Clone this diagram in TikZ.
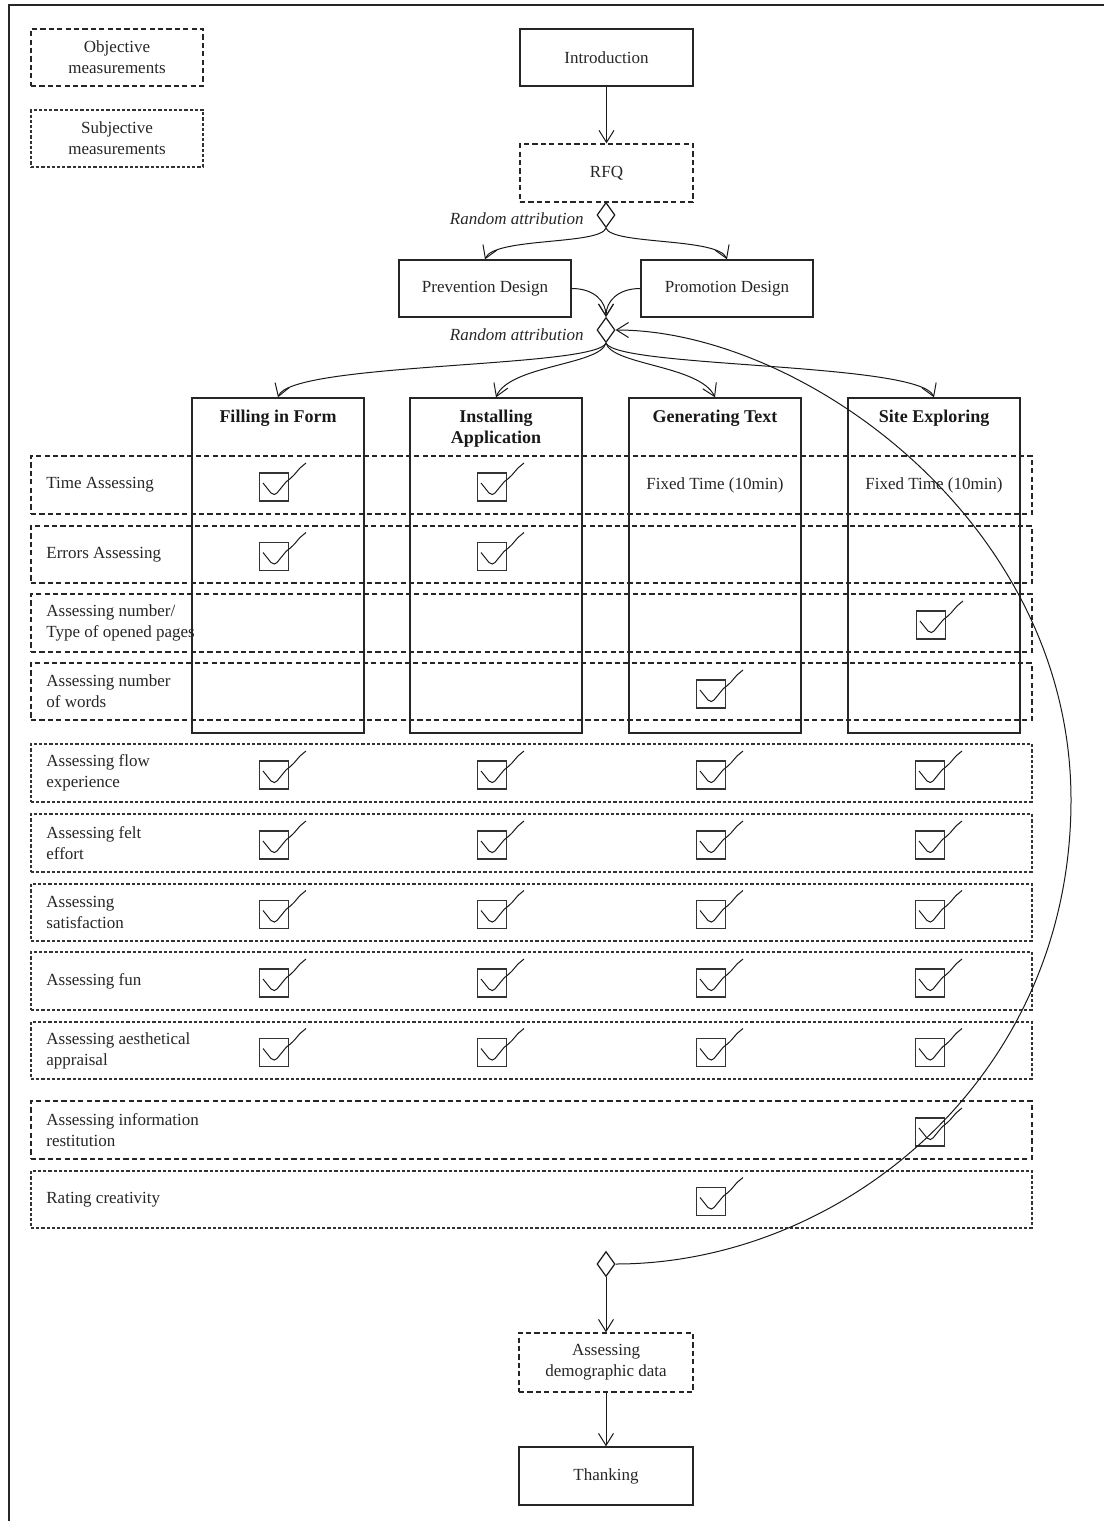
\documentclass[tikz,border=0pt]{standalone}
\usepackage{fontspec}
\setmainfont{Liberation Serif}
\usetikzlibrary{shapes.geometric,arrows.meta,fit}
\tikzset{
  chk/.pic={
    \draw[line width=0.6pt, draw=black!80] (-14.5,-14) rectangle (14.5,14);
    \draw[line width=0.5pt, draw=black!90] (-11,-4) -- (-3,6) .. controls (-1,8) and (2,8) .. (3,6) -- (12,-5) .. controls (15,-8) and (18,-9) .. (20,-12) -- (26,-19) .. controls (28,-21) and (30,-22) .. (32,-24);
  }
}
\begin{document}
\begin{tikzpicture}[x=0.5pt,y=-0.5pt,
  font=\fontsize{8.5}{10.5}\selectfont,
  txt/.style={text=black!85},
  solidbox/.style={draw=black!85, line width=0.7pt, inner sep=0pt, text=black!85, align=center},
  objbox/.style={draw=black!85, line width=0.7pt, dash pattern=on 2.6pt off 1.6pt, inner sep=0pt, text=black!85, align=center},
  subbox/.style={draw=black!80, line width=0.55pt, dash pattern=on 1.6pt off 1pt, inner sep=0pt, text=black!85, align=center},
  conn/.style={draw=black!90, line width=0.5pt, -{Straight Barb[length=6pt,width=7.5pt]}},
  dia/.style={draw=black!90, line width=0.6pt, diamond, minimum width=9pt, minimum height=12.5pt, inner sep=0pt},
  rowlab/.style={anchor=west, inner sep=0pt, text=black!85, align=left},
  ttl/.style={text=black!90, align=center, font=\fontsize{9}{10.5}\selectfont\bfseries},
  ital/.style={anchor=east, inner sep=0pt, text=black!85, font=\fontsize{8.5}{10.5}\selectfont\itshape}
]
\useasboundingbox (0,0) rectangle (1104,1521);
\draw[line width=0.8pt, draw=black!85] (9,1521) -- (9,5) -- (1104,5);

% legend
\node[objbox, minimum width=86pt, minimum height=28.5pt] (legobj) at (117,57.5) {Objective\\measurements};
\node[subbox, minimum width=86pt, minimum height=28.5pt] (legsub) at (117,138.5) {Subjective\\measurements};

% top flow
\node[solidbox, minimum width=86.5pt, minimum height=28.5pt] (intro) at (606.5,57.5) {Introduction};
\node[objbox, minimum width=86.5pt, minimum height=29pt] (rfq) at (606.5,173) {RFQ};
\node[dia] (d1) at (606,215) {};
\node[ital] (ra1) at (584,219) {Random attribution};
\node[solidbox, minimum width=86pt, minimum height=28.5pt] (prev) at (485,288.5) {Prevention Design};
\node[solidbox, minimum width=86pt, minimum height=28.5pt] (prom) at (727,288.5) {Promotion Design};
\node[dia] (d2) at (606,330) {};
\node[ital] (ra2) at (584,335) {Random attribution};

% rows
\node[objbox, fit={(31,456)(1032,514)}] (r1) {};
\node[objbox, fit={(31,526)(1032,583)}] (r2) {};
\node[objbox, fit={(31,594)(1032,652)}] (r3) {};
\node[objbox, fit={(31,663)(1032,720)}] (r4) {};
\node[subbox, fit={(31,744)(1032,802)}] (r5) {};
\node[subbox, fit={(31,814)(1032,872)}] (r6) {};
\node[subbox, fit={(31,884)(1032,941)}] (r7) {};
\node[subbox, fit={(31,952)(1032,1010)}] (r8) {};
\node[subbox, fit={(31,1022)(1032,1079)}] (r9) {};
\node[objbox, fit={(31,1101)(1032,1159)}] (r10) {};
\node[subbox, fit={(31,1171)(1032,1228)}] (r11) {};

\node[rowlab] (l1) at (46,485) {Time Assessing};
\node[rowlab] (l2) at (46,554.5) {Errors Assessing};
\node[rowlab] (l3) at (46,623) {Assessing number/\\Type of opened pages};
\node[rowlab] (l4) at (46,691.5) {Assessing number\\of words};
\node[rowlab] (l5) at (46,773) {Assessing flow\\experience};
\node[rowlab] (l6) at (46,843) {Assessing felt\\effort};
\node[rowlab] (l7) at (46,912.5) {Assessing\\satisfaction};
\node[rowlab] (l8) at (46,981) {Assessing fun};
\node[rowlab] (l9) at (46,1050.5) {Assessing aesthetical\\appraisal};
\node[rowlab] (l10) at (46,1130) {Assessing information\\restitution};
\node[rowlab] (l11) at (46,1199.5) {Rating creativity};

% task columns
\node[solidbox, fit={(192,398)(364,733)}] (c1) {};
\node[solidbox, fit={(410,398)(582,733)}] (c2) {};
\node[solidbox, fit={(629,398)(801,733)}] (c3) {};
\node[solidbox, fit={(848,398)(1020,733)}] (c4) {};
\node[ttl] (t1) at (278,418) {Filling in Form};
\node[ttl] (t2) at (496,429) {Installing\\Application};
\node[ttl] (t3) at (715,418) {Generating Text};
\node[ttl] (t4) at (934,418) {Site Exploring};
\node[txt] (ft3) at (715,485) {Fixed Time (10min)};
\node[txt] (ft4) at (934,485) {Fixed Time (10min)};

% checkboxes
\pic at (274,487) {chk};
\pic at (492,487) {chk};
\pic at (274,556.5) {chk};
\pic at (492,556.5) {chk};
\pic at (931,625) {chk};
\pic at (711,694) {chk};
\foreach \yy in {775,845,914.5,983,1052.5} {
  \pic at (274,\yy) {chk};
  \pic at (492,\yy) {chk};
  \pic at (711,\yy) {chk};
  \pic at (930,\yy) {chk};
}
\pic at (930,1132) {chk};
\pic at (711,1201.5) {chk};

% bottom flow
\node[dia] (d3) at (606,1264) {};
\node[objbox, minimum width=87pt, minimum height=29.5pt] (demo) at (606,1362.5) {Assessing\\demographic data};
\node[solidbox, minimum width=87pt, minimum height=29pt] (thank) at (606,1476) {Thanking};
\coordinate (ret) at (1071,800);

% connectors
\draw[conn] (intro.south) -- (rfq.north);
\draw[conn] (d1.south) .. controls +(-6,17) and +(9,-22) .. (prev.north);
\draw[conn] (d1.south) .. controls +(6,17) and +(-9,-22) .. (prom.north);
\draw[conn] (prev.east) .. controls +(22,0) and +(0,-16) .. (d2.north);
\draw[conn] (prom.west) .. controls +(-22,0) and +(0,-16) .. (d2.north);
\draw[conn] (d2.south) .. controls +(-11,25) and +(12,-35) .. (c1.north);
\draw[conn] (d2.south) .. controls +(-6,22) and +(13,-32) .. (c2.north);
\draw[conn] (d2.south) .. controls +(6,22) and +(-15,-32) .. (c3.north);
\draw[conn] (d2.south) .. controls +(11,25) and +(-14,-35) .. (c4.north);
\draw[conn] (d3.south) -- (demo.north);
\draw[conn] (demo.south) -- (thank.north);
\draw[conn] (d3.east) .. controls (840,1264) and (1071,1080) .. (ret) .. controls (1071,520) and (800,330) .. (d2.east);
\end{tikzpicture}
\end{document}
